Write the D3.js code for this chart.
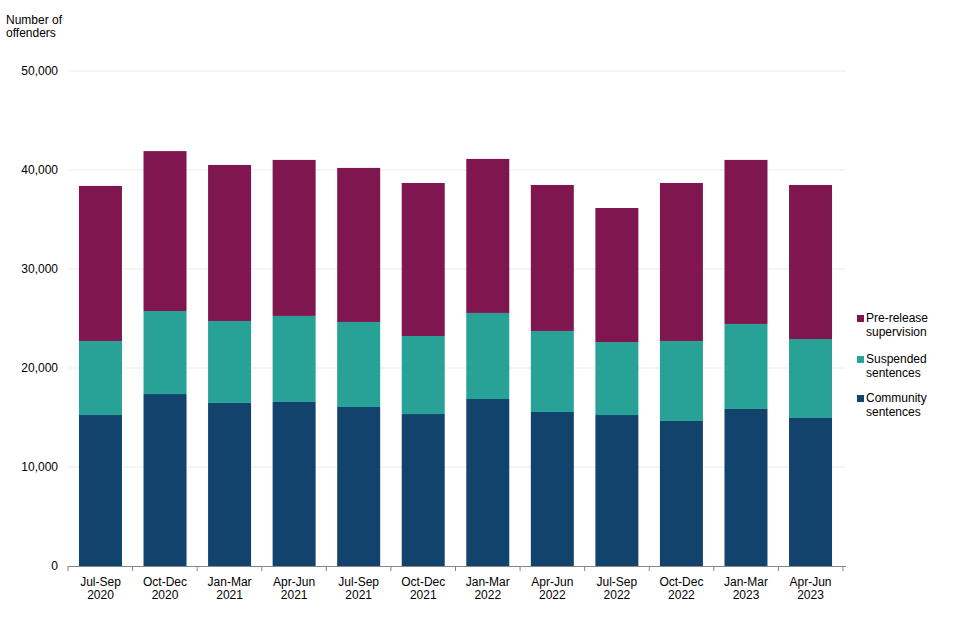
<!DOCTYPE html>
<html>
<head>
<meta charset="utf-8">
<script src="https://cdn.jsdelivr.net/npm/d3@7"></script>
<style>
  body { margin: 0; background: #fff; }
  text { font-family: "Liberation Sans", Arial, sans-serif; fill: #000; }
</style>
</head>
<body>
<svg id="chart" width="960" height="640"></svg>
<script>
const quarters = ['Jul-Sep 2020', 'Oct-Dec 2020', 'Jan-Mar 2021', 'Apr-Jun 2021', 'Jul-Sep 2021', 'Oct-Dec 2021',
    'Jan-Mar 2022', 'Apr-Jun 2022', 'Jul-Sep 2022', 'Oct-Dec 2022', 'Jan-Mar 2023', 'Apr-Jun 2023'];
const community = [15250, 17370, 16470, 16570, 16060, 15350, 16870, 15560, 15250, 14650, 15860, 14950];
const suspended = [7480, 8380, 8280, 8690, 8590, 7880, 8690, 8180, 7370, 8080, 8590, 7980];
const preRelease = [15660, 16160, 15760, 15760, 15560, 15460, 15560, 14750, 13540, 15960, 16570, 15560];
const yTicks = [0, 10000, 20000, 30000, 40000, 50000];

const seriesKeys = ['community', 'suspended', 'preRelease'],
    seriesNames = { community: 'Community sentences', suspended: 'Suspended sentences', preRelease: 'Pre-release supervision' },
    colours = { community: '#12436d', suspended: '#28a197', preRelease: '#801650' };

const rows = quarters.map((q, i) => ({
    quarter: q,
    community: community[i],
    suspended: suspended[i],
    preRelease: preRelease[i]
}));

const svg = d3.select('#chart'),
    margin = { top: 71, left: 68, right: 117, bottom: 74 },
    width = 960 - margin.left - margin.right,
    height = 640 - margin.top - margin.bottom;

const x = d3.scaleBand().domain(quarters).range([margin.left, margin.left + width]).paddingInner(0.334).paddingOuter(0.17);
const y = d3.scaleLinear().domain([0, 50000]).range([margin.top + height, margin.top]);

// gridlines
svg.append('g')
    .selectAll('line')
    .data(yTicks.filter(d => d > 0))
    .join('line')
    .attr('x1', margin.left)
    .attr('x2', margin.left + width + 3)
    .attr('y1', d => y(d))
    .attr('y2', d => y(d))
    .attr('stroke', '#edebdf')
    .attr('stroke-width', 1);

// y labels
svg.append('g')
    .selectAll('text')
    .data(yTicks)
    .join('text')
    .attr('x', 58)
    .attr('y', d => y(d))
    .attr('dy', '0.35em')
    .attr('text-anchor', 'end')
    .attr('font-size', 12)
    .text(d => d3.format(',')(d));

svg.append('text').attr('x', 6).attr('y', 24).attr('font-size', 12).text('Number of');
svg.append('text').attr('x', 6).attr('y', 37).attr('font-size', 12).text('offenders');

// bars
const stacked = d3.stack().keys(seriesKeys)(rows);
svg.append('g')
    .selectAll('g')
    .data(stacked)
    .join('g')
    .attr('fill', d => colours[d.key])
    .selectAll('rect')
    .data(d => d)
    .join('rect')
    .attr('x', d => x(d.data.quarter))
    .attr('width', x.bandwidth())
    .attr('y', d => y(d[1]))
    .attr('height', d => y(d[0]) - y(d[1]));

// x axis
const boundaries = d3.range(quarters.length + 1).map(i => margin.left + i * width / quarters.length);
const xAxis = svg.append('g');
xAxis.append('line')
    .attr('x1', margin.left).attr('x2', margin.left + width + 3)
    .attr('y1', y(0) + 0.5).attr('y2', y(0) + 0.5)
    .attr('stroke', '#868686');
xAxis.selectAll('line.tick')
    .data(boundaries)
    .join('line')
    .attr('class', 'tick')
    .attr('x1', d => d).attr('x2', d => d)
    .attr('y1', y(0)).attr('y2', y(0) + 5)
    .attr('stroke', '#868686');
xAxis.selectAll('text')
    .data(quarters)
    .join('text')
    .attr('text-anchor', 'middle')
    .attr('font-size', 12)
    .attr('transform', d => `translate(${x(d) + x.bandwidth() / 2},${y(0) + 20})`)
    .each(function (d) {
        const parts = d.split(' ');
        d3.select(this).append('tspan').attr('x', 0).attr('y', 0).text(parts[0]);
        d3.select(this).append('tspan').attr('x', 0).attr('y', 13).text(parts[1]);
    });

// legend
const legendRows = [
    { key: 'preRelease', y: 318 },
    { key: 'suspended', y: 359 },
    { key: 'community', y: 398 }
];
const legend = svg.append('g');
legendRows.forEach(r => {
    legend.append('rect')
        .attr('x', 857).attr('y', r.y - 3)
        .attr('width', 7).attr('height', 7)
        .attr('fill', colours[r.key]);
    const words = seriesNames[r.key].split(' ');
    const t = legend.append('text').attr('font-size', 12);
    t.append('tspan').attr('x', 866).attr('y', r.y + 4).text(words[0]);
    t.append('tspan').attr('x', 866).attr('y', r.y + 18).text(words[1]);
});
</script>
</body>
</html>
